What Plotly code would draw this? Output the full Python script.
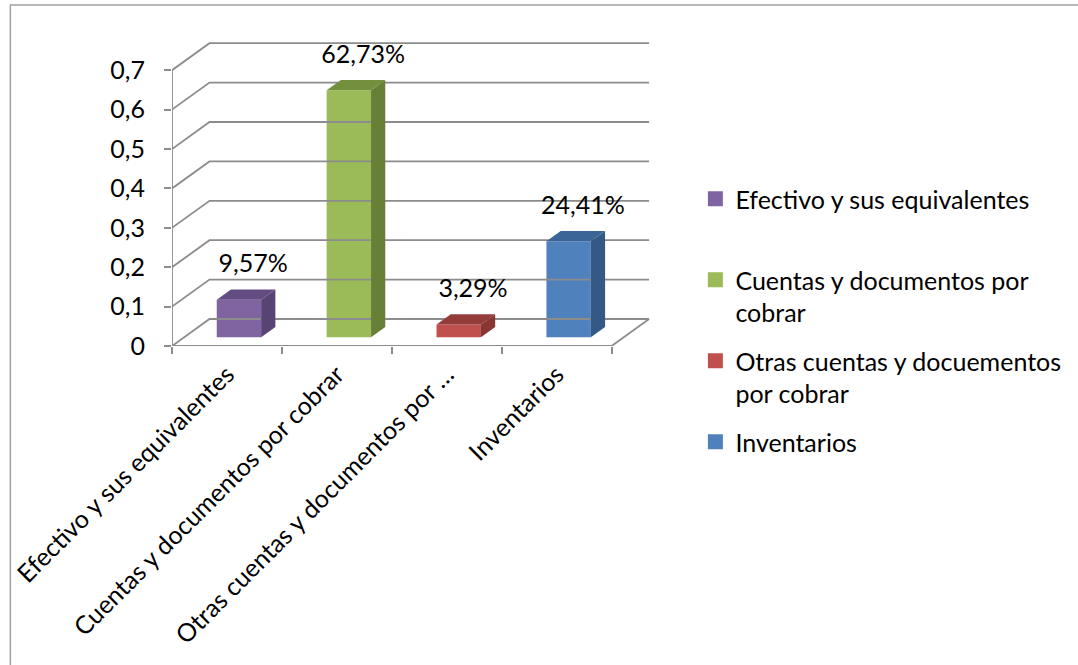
import plotly.graph_objects as go

# ---------------- data ----------------
categories = ["Efectivo y sus equivalentes",
              "Cuentas y documentos por cobrar",
              "Otras cuentas y documentos por …",
              "Inventarios"]
legend_names = ["Efectivo y sus equivalentes<br>&nbsp;",
                "Cuentas y documentos por<br>cobrar",
                "Otras cuentas y docuementos<br>por cobrar",
                "Inventarios"]
values = [0.0957, 0.6273, 0.0329, 0.2441]
y_ticks = [0, 0.1, 0.2, 0.3, 0.4, 0.5, 0.6, 0.7]

front_colors = ["#8064A2", "#9BBB59", "#C0504D", "#4F81BD"]
top_colors = ["#624C82", "#74903F", "#943C3A", "#3B6596"]
side_colors = ["#574474", "#687F38", "#873634", "#345986"]

# ---------------- geometry (in axis units) ----------------
FONT = "Lato"
FS = 25
GRID = "#8C8C8C"
dX, dY = 0.341, 0.0685          # oblique depth of the 3D box
f_front, f_back = 0.32, 0.70     # depth fractions of bar faces
bar_w = 0.404
n = len(categories)

fig = go.Figure()

# back wall gridlines + floor + vertical axis line
gx, gy = [], []
for v in y_ticks:
    gx += [-0.5, -0.5 + dX, n - 0.5 + dX, None]
    gy += [v, v + dY, v + dY, None]
gx += [-0.5, n - 0.5, n - 0.5 + dX, None, -0.5, -0.5]
gy += [0, 0, dY, None, 0, y_ticks[-1]]
fig.add_trace(go.Scatter(x=gx, y=gy, mode="lines", line=dict(color=GRID, width=1.8),
                         showlegend=False, hoverinfo="skip", cliponaxis=False))

bx = f_front * dX
by = f_front * dY
ddx = (f_back - f_front) * dX
ddy = (f_back - f_front) * dY

for i, (v, name) in enumerate(zip(values, legend_names)):
    xc = i + bx
    xl, xr = xc - bar_w / 2, xc + bar_w / 2
    # front face
    fig.add_trace(go.Bar(x=[xc], y=[v], base=[by], width=bar_w, name=name,
                         marker=dict(color=front_colors[i], line=dict(width=0)),
                         legendgroup=str(i), showlegend=False, hoverinfo="skip"))
    # top face
    fig.add_trace(go.Scatter(x=[xl, xl + ddx, xr + ddx, xr, xl],
                             y=[v + by, v + by + ddy, v + by + ddy, v + by, v + by],
                             fill="toself", mode="lines", line=dict(width=0, color=top_colors[i]),
                             fillcolor=top_colors[i], showlegend=False, hoverinfo="skip",
                             legendgroup=str(i)))
    # side face
    fig.add_trace(go.Scatter(x=[xr, xr + ddx, xr + ddx, xr, xr],
                             y=[by, by + ddy, v + by + ddy, v + by, by],
                             fill="toself", mode="lines", line=dict(width=0, color=side_colors[i]),
                             fillcolor=side_colors[i], showlegend=False, hoverinfo="skip",
                             legendgroup=str(i)))
    # legend entry (square swatch)
    fig.add_trace(go.Scatter(x=[None], y=[None], mode="markers", name=name,
                             marker=dict(symbol="square", size=15, color=front_colors[i]),
                             legendgroup=str(i), showlegend=True, hoverinfo="skip"))

# value labels
labels = [f"{v * 100:.2f}".replace(".", ",") + "%" for v in values]
fig.add_trace(go.Scatter(x=[i + bx + 0.13 for i in range(n)],
                         y=[v + by + 0.085 for v in values],
                         mode="text", text=labels, textposition="middle center",
                         textfont=dict(family=FONT, size=FS, color="#000000"),
                         showlegend=False, hoverinfo="skip", cliponaxis=False))

x_range = [-0.5, -0.5 + 488 / 111.5]
fig.update_layout(
    width=1078, height=665, autosize=False,
    margin=dict(l=172, r=418, t=30, b=319, pad=0),
    paper_bgcolor="white", plot_bgcolor="white",
    separators=",.",
    barmode="overlay",
    font=dict(family=FONT, size=FS, color="#000000"),
    xaxis=dict(range=x_range, tickvals=list(range(n)), ticktext=categories,
               tickangle=-45, ticks="", showgrid=False, zeroline=False, showline=False,
               tickfont=dict(family=FONT, size=FS), automargin=False,
               ticklabelstandoff=8),
    xaxis2=dict(range=x_range, overlaying="x", anchor="y", side="bottom",
                tickvals=[k - 0.5 for k in range(n + 1)], ticks="outside", ticklen=7,
                tickwidth=1.8, tickcolor=GRID, showticklabels=False,
                showgrid=False, zeroline=False, showline=False),
    yaxis=dict(range=[0, 316 / 394], tickvals=y_ticks, ticks="outside", ticklen=7,
               tickwidth=1.8, tickcolor=GRID, showgrid=False, zeroline=False,
               showline=False, tickfont=dict(family=FONT, size=FS), automargin=False,
               ticklabelstandoff=14),
    legend=dict(x=(703 - 172) / 488, y=1 - (176 - 30) / 316, xanchor="left", yanchor="top",
                font=dict(family=FONT, size=FS), valign="top", tracegroupgap=13,
                bgcolor="rgba(0,0,0,0)"),
    shapes=[dict(type="rect", xref="paper", yref="paper",
                 x0=(8 - 172) / 488, x1=(1100 - 172) / 488,
                 y0=1 - (690 - 30) / 316, y1=1 + (30 - 5) / 316,
                 line=dict(color="#A0A0A0", width=1.5), fillcolor="rgba(0,0,0,0)",
                 layer="below")],
)
# a dummy trace on xaxis2 so the overlaid tick axis is drawn
fig.add_trace(go.Scatter(x=[None], y=[None], xaxis="x2", showlegend=False, hoverinfo="skip"))

fig.write_html("out.html", config={"displayModeBar": False},
               post_script="document.body.style.margin='0px';document.body.style.overflow='hidden';")
